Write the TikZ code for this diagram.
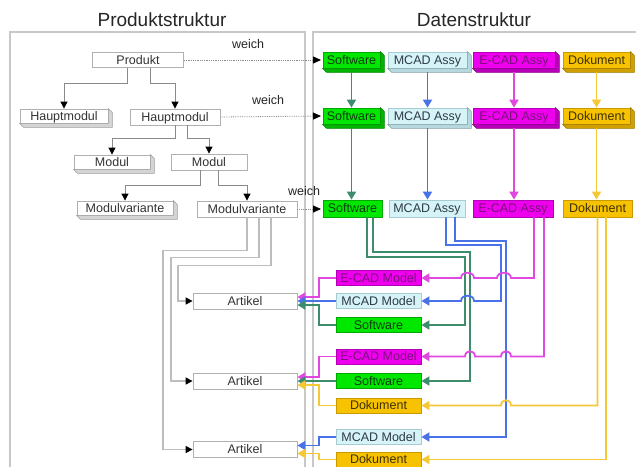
\documentclass[tikz,border=0pt]{standalone}
\usepackage{fontspec}
\setmainfont{Liberation Sans}
\usetikzlibrary{arrows.meta}
\definecolor{swfill}{HTML}{00E800}
\definecolor{swdraw}{HTML}{00A800}
\definecolor{swext}{HTML}{00B400}
\definecolor{swtext}{HTML}{0F3A0F}
\definecolor{mcfill}{HTML}{D6F4F8}
\definecolor{mcdraw}{HTML}{A8CCD4}
\definecolor{mcext}{HTML}{B4D8DE}
\definecolor{mctext}{HTML}{2E3A48}
\definecolor{ecfill}{HTML}{EE00EE}
\definecolor{ecdraw}{HTML}{B400B4}
\definecolor{ecext}{HTML}{B800B8}
\definecolor{ectext}{HTML}{7A107A}
\definecolor{dkfill}{HTML}{F7C200}
\definecolor{dkdraw}{HTML}{C89A00}
\definecolor{dkext}{HTML}{CFA000}
\definecolor{dktext}{HTML}{3E3000}
\definecolor{lg}{HTML}{3D8C6C}
\definecolor{lb}{HTML}{4A72E8}
\definecolor{lm}{HTML}{E048E0}
\definecolor{ly}{HTML}{F5C838}
\definecolor{frame}{HTML}{C8C8C8}
\definecolor{pdraw}{HTML}{B0B0B0}
\definecolor{pext}{HTML}{D4D4D4}
\definecolor{ptext}{HTML}{333333}
\definecolor{treeline}{HTML}{8A8A8A}
\definecolor{artline}{HTML}{BDBDBD}
\newcommand\extrude[3]{%
  \filldraw[fill=#2,draw=#2!75!black,line width=0.5pt] (#1.south west) -- ([xshift=#3pt,yshift=-#3pt]#1.south west) -- ([xshift=#3pt,yshift=-#3pt]#1.south east) -- ([xshift=#3pt,yshift=-#3pt]#1.north east) -- (#1.north east) -- (#1.south east) -- cycle;}
\begin{document}
\begin{tikzpicture}[x=1pt,y=-1pt,
  lbl/.style={font=\fontsize{12.5}{14}\selectfont},
  box/.style={lbl, draw, line width=0.8pt, inner sep=0pt, minimum height=15pt, text height=10pt, text depth=1.2pt},
  pbox/.style={box, fill=white, draw=pdraw, text=ptext},
  swb/.style={box, fill=swfill, draw=swdraw, text=swtext},
  mcb/.style={box, fill=mcfill, draw=mcdraw, text=mctext},
  ecb/.style={box, fill=ecfill, draw=ecdraw, text=ectext},
  dkb/.style={box, fill=dkfill, draw=dkdraw, text=dktext},
  conn/.style={line width=1.8pt, -{Triangle[width=9pt,length=8pt]}},
  cgreen/.style={conn, draw=lg},
  cblue/.style={conn, draw=lb},
  cmag/.style={conn, draw=lm},
  cyel/.style={conn, draw=ly},
  treearr/.style={draw=treeline, line width=0.8pt, -{Triangle[width=7pt,length=7pt,color=black]}},
  artarr/.style={draw=artline, line width=1.5pt, -{Triangle[width=7pt,length=7pt,color=black]}},
  softarr/.style={draw=treeline, line width=0.8pt, densely dotted, -{Triangle[width=7pt,length=8pt,color=black]}},
  wlbl/.style={lbl, text=black!85}
]
\useasboundingbox (0,0) rectangle (636,466);
\clip (0,0) rectangle (636,466);
\fill[white] (0,0) rectangle (636,466);

% titles
\node[font=\fontsize{19}{22}\selectfont, text=black!85] (t1) at (162,20) {Produktstruktur};
\node[font=\fontsize{19}{22}\selectfont, text=black!85] (t2) at (474,20) {Datenstruktur};

% panels
\draw[frame, line width=1.2pt] (10,32) rectangle (305,480);
\draw[frame, line width=1.2pt] (313,32) rectangle (660,480);

% product structure
\node[pbox, minimum width=91pt] (prod) at (138,60) {Produkt};
\node[pbox, minimum width=88pt, minimum height=14pt] (hm1) at (64,116) {Hauptmodul};
\extrude{hm1}{pext}{4}
\node[pbox, minimum width=90pt, minimum height=16pt] (hm2) at (175,117) {Hauptmodul};
\node[pbox, minimum width=76pt, minimum height=14pt] (mod1) at (112,162) {Modul};
\extrude{mod1}{pext}{4}
\node[pbox, minimum width=76pt, minimum height=16pt] (mod2) at (209,162) {Modul};
\node[pbox, minimum width=96pt, minimum height=14pt] (mv1) at (125,208) {Modulvariante};
\extrude{mv1}{pext}{4}
\node[pbox, minimum width=100pt, minimum height=16pt] (mv2) at (247,209) {Modulvariante};
\node[pbox, minimum width=104pt, minimum height=16pt] (art1) at (245,301) {Artikel};
\node[pbox, minimum width=104pt, minimum height=16pt] (art2) at (245,381) {Artikel};
\node[pbox, minimum width=104pt, minimum height=16pt] (art3) at (245,449.5) {Artikel};

\draw[treearr] ([xshift=-11pt]prod.south) -- ++(0,15) -| (hm1.north);
\draw[treearr] ([xshift=12pt]prod.south) -- ++(0,15) -| (hm2.north);
\draw[treearr] (hm2.south) -- ++(0,13) -| (mod1.north);
\draw[treearr] ([xshift=12pt]hm2.south) -- ++(0,13) -| (mod2.north);
\draw[treearr] ([xshift=-9pt]mod2.south) -- ++(0,15) -| (mv1.north);
\draw[treearr] ([xshift=9pt]mod2.south) -- ++(0,15) -| (mv2.north);

\draw[artarr] (mv2.south) -- ++(0,33) -- ++(-84,0) |- (art3.west);
\draw[artarr] ([xshift=12pt]mv2.south) -- ++(0,40) -- ++(-88,0) |- (art2.west);
\draw[artarr] ([xshift=24pt]mv2.south) -- ++(0,48) -- ++(-93,0) |- (art1.west);

% weich
\coordinate (w1) at (321,60);
\coordinate (w2) at (321,116);
\coordinate (w3) at (321,209);
\draw[softarr] (prod.east) -- (w1);
\draw[softarr] (hm2.east) -- (w2);
\draw[softarr] (mv2.east) -- (w3);
\node[wlbl] (wl1) at (248,44) {weich};
\node[wlbl] (wl2) at (268,100) {weich};
\node[wlbl] (wl3) at (304,191) {weich};

% data structure rows
\node[swb, minimum width=57pt, minimum height=16pt] (sw1) at (351.5,60) {Software};
\extrude{sw1}{swext}{4}
\node[mcb, minimum width=79pt, minimum height=16pt] (mc1) at (427.5,60) {MCAD Assy};
\extrude{mc1}{mcext}{4}
\node[ecb, minimum width=82pt, minimum height=16pt] (ec1) at (514,60) {E-CAD Assy};
\extrude{ec1}{ecext}{4}
\node[dkb, minimum width=67pt, minimum height=16pt] (dk1) at (596.5,60) {Dokument};
\extrude{dk1}{dkext}{4}

\node[swb, minimum width=57pt, minimum height=16pt] (sw2) at (351.5,116) {Software};
\extrude{sw2}{swext}{4}
\node[mcb, minimum width=79pt, minimum height=16pt] (mc2) at (427.5,116) {MCAD Assy};
\extrude{mc2}{mcext}{4}
\node[ecb, minimum width=82pt, minimum height=16pt] (ec2) at (514,116) {E-CAD Assy};
\extrude{ec2}{ecext}{4}
\node[dkb, minimum width=67pt, minimum height=16pt] (dk2) at (596.5,116) {Dokument};
\extrude{dk2}{dkext}{4}

\node[swb, minimum width=59pt, minimum height=17pt] (sw3) at (352.5,208.5) {Software};
\node[mcb, minimum width=76pt, minimum height=17pt] (mc3) at (427,208.5) {MCAD Assy};
\node[ecb, minimum width=80pt, minimum height=17pt] (ec3) at (513,208.5) {E-CAD Assy};
\node[dkb, minimum width=69pt, minimum height=17pt] (dk3) at (597.5,208.5) {Dokument};

\draw[cgreen] ([yshift=-4pt]sw1.south) -- (sw2.north);
\draw[cblue] ([yshift=-4pt]mc1.south) -- (mc2.north);
\draw[cmag] ([yshift=-4pt]ec1.south) -- (ec2.north);
\draw[cyel] ([yshift=-4pt]dk1.south) -- (dk2.north);
\draw[cgreen] ([yshift=-4pt]sw2.south) -- (sw2.south |- sw3.north);
\draw[cblue] ([yshift=-4pt]mc2.south) -- (mc2.south |- mc3.north);
\draw[cmag] ([yshift=-4pt]ec2.south) -- (ec2.south |- ec3.north);
\draw[cyel] ([yshift=-4pt]dk2.south) -- (dk2.south |- dk3.north);

% lower data nodes
\node[ecb, minimum width=85pt] (ecm1) at (378.5,278) {E-CAD Model};
\node[mcb, minimum width=85pt] (mcm1) at (378.5,301) {MCAD Model};
\node[swb, minimum width=85pt] (sw4) at (378.5,325) {Software};
\node[ecb, minimum width=85pt] (ecm2) at (378.5,356.5) {E-CAD Model};
\node[swb, minimum width=85pt] (sw5) at (378.5,381) {Software};
\node[dkb, minimum width=85pt] (dk4) at (378.5,405.5) {Dokument};
\node[mcb, minimum width=85pt] (mcm3) at (378.5,437) {MCAD Model};
\node[dkb, minimum width=85pt] (dk5) at (378.5,459.5) {Dokument};

% lower nodes to Artikel
\draw[cmag] (ecm1.west) -- ++(-17,0) |- ([yshift=4pt]art1.east);
\draw[cblue] (mcm1.west) -- (art1.east);
\draw[cgreen] (sw4.west) -- ++(-17,0) |- ([yshift=-4pt]art1.east);
\draw[cmag] (ecm2.west) -- ++(-17,0) |- ([yshift=4pt]art2.east);
\draw[cgreen] (sw5.west) -- (art2.east);
\draw[cyel] (dk4.west) -- ++(-17,0) |- ([yshift=-4pt]art2.east);
\draw[cblue] (mcm3.west) -- ++(-17,0) |- ([yshift=4pt]art3.east);
\draw[cyel] (dk5.west) -- ++(-17,0) |- ([yshift=-4pt]art3.east);

% feeds from row 3
\draw[cgreen] ([xshift=14.5pt]sw3.south) |- (465,257) |- (sw4.east);
\draw[cgreen] ([xshift=20.5pt]sw3.south) |- (470,252) |- (sw5.east);
\draw[cblue] ([xshift=28pt]mc3.south) |- (506,241) |- (mcm3.east);
\draw[cblue] ([xshift=19pt]mc3.south) |- (501,245) -- (501,301) -- (474,301) .. controls (474,294) and (461,294) .. (461,301) -- (mcm1.east);
\draw[cmag] ([xshift=21pt]ec3.south) -- (534,278) -- (511,278) .. controls (511,271) and (497,271) .. (497,278) -- (474,278) .. controls (474,271) and (461,271) .. (461,278) -- (ecm1.east);
\draw[cmag] ([xshift=31pt]ec3.south) -- (544,356.5) -- (511,356.5) .. controls (511,349.5) and (501,349.5) .. (501,356.5) -- (475,356.5) .. controls (475,349.5) and (465,349.5) .. (465,356.5) -- (ecm2.east);
\draw[cyel] (dk3.south) -- (597.5,405.5) -- (511,405.5) .. controls (511,398.5) and (501,398.5) .. (501,405.5) -- (dk4.east);
\draw[cyel] ([xshift=8.5pt]dk3.south) |- (dk5.east);
\end{tikzpicture}
\end{document}
